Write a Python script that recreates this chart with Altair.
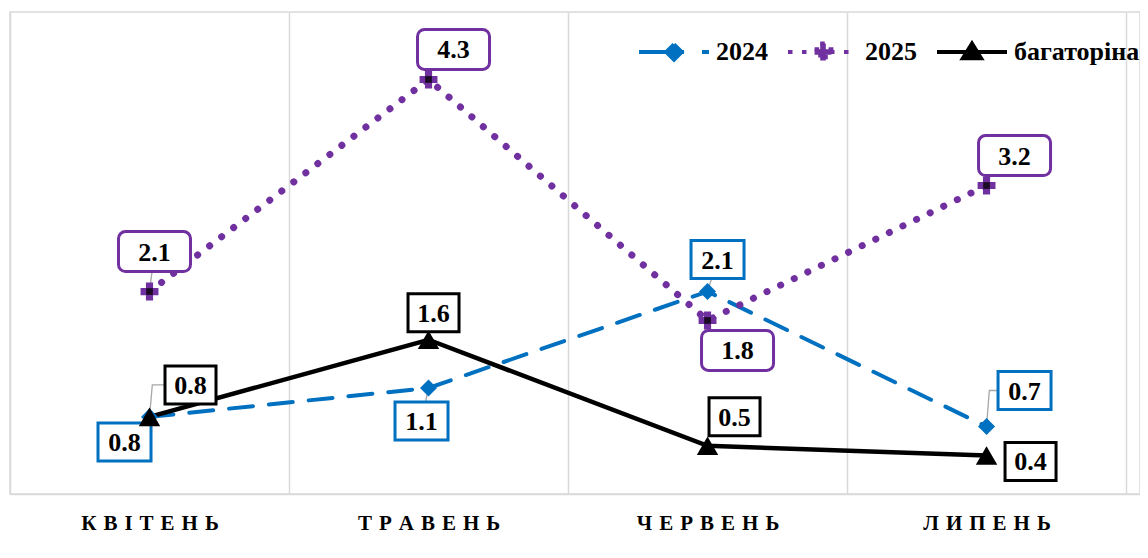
import json
import pandas as pd
import altair as alt

# ---------------- data ----------------
months = ["КВІТЕНЬ", "ТРАВЕНЬ", "ЧЕРВЕНЬ", "ЛИПЕНЬ"]
series_names = ["2024", "2025", "багаторіна"]
v2024 = [0.8, 1.1, 2.1, 0.7]
v2025 = [2.1, 4.3, 1.8, 3.2]
vmulti = [0.8, 1.6, 0.5, 0.4]
values = {"2024": v2024, "2025": v2025, "багаторіна": vmulti}

# ---------------- layout / style ----------------
W, H = 1130, 482
XDOM = [-0.5, 3.55]
YDOM = [0, 5]
PX_X = W / (XDOM[1] - XDOM[0])
PX_Y = H / (YDOM[1] - YDOM[0])
FONT = "Liberation Serif"
GRID = "#d9d9d9"

colors = {"2024": "#0070C0", "2025": "#7030A0", "багаторіна": "#000000"}
# label offsets from their point, in pixels (right / down positive)
label_dx = {"2024": [-25, -7, 10, 38], "2025": [5, 25, 30, 28], "багаторіна": [41, 5, 27, 44]}
label_dy = {"2024": [25, 33, -32, -36], "2025": [-40, -30, 30, -30], "багаторіна": [-32, -27, -29, 6]}
box_w = {"2024": 53, "2025": 72, "багаторіна": 51}
box_h = {"2024": 38, "2025": 40, "багаторіна": 38}
box_r = {"2024": 0, "2025": 7, "багаторіна": 0}
leader_kind = {"2024": ["none", "straight", "straight", "elbow"],
               "2025": ["straight", "none", "none", "none"],
               "багаторіна": ["elbow", "none", "none", "none"]}

rows, lead_rows = [], []
for s in series_names:
    for i, m in enumerate(months):
        v = values[s][i]
        lx = i + label_dx[s][i] / PX_X
        ly = v - label_dy[s][i] / PX_Y
        rows.append(dict(series=s, idx=i, month=m, value=v, lx=lx, ly=ly,
                         bx1=lx - box_w[s] / 2 / PX_X, bx2=lx + box_w[s] / 2 / PX_X,
                         by1=ly - box_h[s] / 2 / PX_Y, by2=ly + box_h[s] / 2 / PX_Y,
                         label=f"{v:.1f}"))
        k = leader_kind[s][i]
        lid = f"{s}-{i}"
        if k == "straight":
            lead_rows += [dict(lid=lid, step=0, x=i, y=v), dict(lid=lid, step=1, x=lx, y=ly)]
        elif k == "elbow":
            lead_rows += [dict(lid=lid, step=0, x=i, y=v), dict(lid=lid, step=1, x=i + 0.01, y=ly),
                          dict(lid=lid, step=2, x=lx, y=ly)]

df = pd.DataFrame(rows)
lead_df = pd.DataFrame(lead_rows)

spaced = ["\u2004".join(m) for m in months]
label_expr = f"datum.value < 3 ? {json.dumps(spaced, ensure_ascii=False)}[datum.value + 0.5] : ''"

xaxis = alt.Axis(values=[-0.5, 0.5, 1.5, 2.5, 3.5], grid=True, gridColor=GRID, gridWidth=1.5,
                 domainColor=GRID, domainWidth=1.5, ticks=False, labelExpr=label_expr,
                 labelOffset=PX_X / 2, labelPadding=29, labelBaseline="middle",
                 labelFont=FONT, labelFontSize=21, labelFontWeight="bold", labelColor="black",
                 labelOverlap=False, labelBound=False, labelFlush=False, title=None)
xscale = alt.Scale(domain=XDOM, nice=False, zero=False)
yscale = alt.Scale(domain=YDOM, nice=False, zero=False)


def X(f):
    return alt.X(f"{f}:Q", scale=xscale, axis=xaxis, title=None)


def Y(f):
    return alt.Y(f"{f}:Q", scale=yscale, axis=None, title=None)


base = alt.Chart(df)
layers = []

line_style = {
    "2024": dict(strokeDash=[24, 16], strokeWidth=4, strokeCap="round"),
    "2025": dict(strokeDash=[0.1, 15], strokeWidth=7, strokeCap="round"),
    "багаторіна": dict(strokeWidth=4.5),
}
for s in series_names:
    layers.append(base.transform_filter(alt.datum.series == s)
                  .mark_line(color=colors[s], **line_style[s])
                  .encode(x=X("idx"), y=Y("value"), order="idx:Q"))

layers.append(alt.Chart(lead_df).mark_line(color="#a6a6a6", strokeWidth=1.3)
              .encode(x=X("x"), y=Y("y"), detail="lid:N", order="step:Q"))

for s in series_names:
    layers.append(base.transform_filter(alt.datum.series == s)
                  .mark_rect(fill="white", stroke=colors[s], strokeWidth=3, cornerRadius=box_r[s])
                  .encode(x=X("bx1"), x2="bx2", y=Y("by1"), y2="by2"))

layers.append(base.mark_text(font=FONT, fontSize=26, fontWeight="bold", color="black",
                             align="center", baseline="middle", dy=1)
              .encode(x=X("lx"), y=Y("ly"), text="label:N"))

marker = {
    "2024": dict(shape="diamond", size=290),
    "2025": dict(shape="cross", size=320),
    "багаторіна": dict(shape="triangle-up", size=460),
}
for s in series_names:
    layers.append(base.transform_filter(alt.datum.series == s)
                  .mark_point(filled=True, opacity=1, color=colors[s], **marker[s])
                  .encode(x=X("idx"), y=Y("value")))
layers.append(base.transform_filter(alt.datum.series == "2025")
              .mark_point(filled=True, opacity=1, color="#1a0a24", shape="square", size=45)
              .encode(x=X("idx"), y=Y("value")))

# legend (native legend with custom symbols)
leg_paths = [
    "M-2.5,0H2.5M0,-0.55L0.55,0L0,0.55L-0.55,0Z",
    "M-2.5,0H2.5M-0.2,-0.6H0.2V-0.2H0.6V0.2H0.2V0.6H-0.2V0.2H-0.6V-0.2H-0.2Z",
    "M-2.5,0H2.5M0,-0.6L0.65,0.45H-0.65Z",
]
leg = alt.Legend(title=None, orient="none", legendX=648, legendY=24, direction="horizontal",
                 symbolSize=784, symbolStrokeWidth=4, symbolOpacity=1, labelFont=FONT, labelFontSize=26,
                 labelFontWeight="bold", labelColor="black", labelOffset=26, columnPadding=12,
                 gridAlign="none", padding=0, labelLimit=300)
cs = alt.Scale(domain=series_names, range=[colors[s] for s in series_names])
layers.append(base.transform_filter("false")
              .mark_point(filled=True, size=784, opacity=1)
              .encode(fill=alt.Fill("series:N", scale=cs, legend=leg),
                      stroke=alt.Stroke("series:N", scale=cs, legend=leg),
                      shape=alt.Shape("series:N", scale=alt.Scale(domain=series_names, range=leg_paths), legend=leg),
                      strokeDash=alt.StrokeDash("series:N", scale=alt.Scale(domain=series_names,
                                                range=[[45, 18], [4.5, 9.5], [1, 0]]), legend=leg)))

chart = (alt.layer(*layers)
         .properties(width=W, height=H, autosize=alt.AutoSizeParams(type="none"),
                     padding={"left": 2, "top": 4, "right": 0, "bottom": 50}, background="white")
         .configure_view(stroke=GRID, strokeWidth=1.5))

chart.save("out.html", embed_options={"renderer": "svg", "actions": False})
